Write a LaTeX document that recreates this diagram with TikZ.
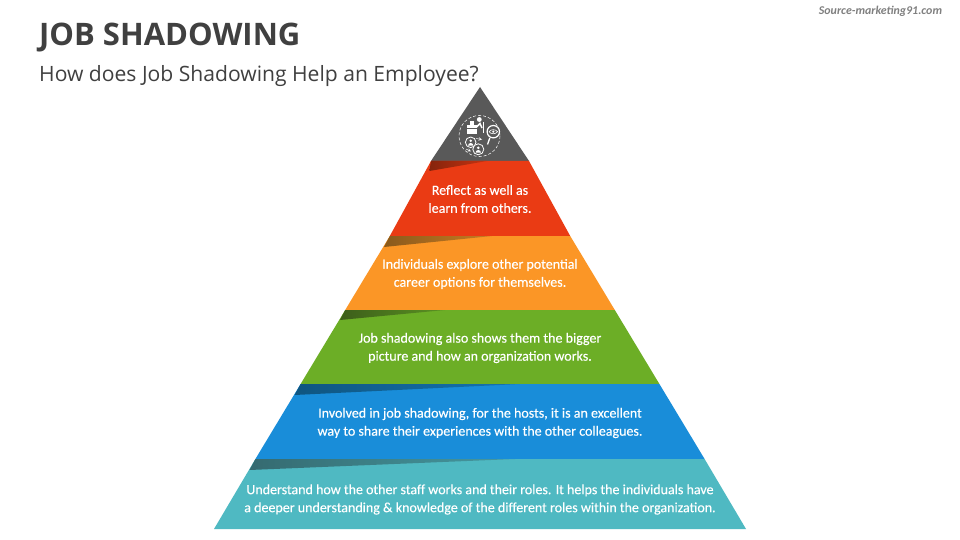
\documentclass[tikz,border=0pt]{standalone}
\usepackage{fontspec}
\setmainfont{Carlito}
\newfontfamily\headfont{Open Sans}
\newfontfamily\bandfont[FakeBold=0.25]{Carlito}
\begin{document}
\begin{tikzpicture}[x=1pt,y=-1pt,
  band/.style={text=white,align=center,font=\bandfont\fontsize{14}{18}\selectfont,inner sep=0pt},
  ic/.style={draw=white,line width=0.8pt,fill=topgrey},
  icw/.style={fill=white,draw=none}]
\definecolor{topgrey}{HTML}{595959}
\definecolor{redb}{HTML}{EA3B14}
\definecolor{orangeb}{HTML}{FB9626}
\definecolor{greenb}{HTML}{6CAE26}
\definecolor{blueb}{HTML}{198DD9}
\definecolor{tealb}{HTML}{4FB9C2}
\definecolor{redd}{HTML}{85240C}
\definecolor{oranged}{HTML}{8A5A1C}
\definecolor{greend}{HTML}{3C5E1A}
\definecolor{blued}{HTML}{0F5580}
\definecolor{teald}{HTML}{356A70}
\definecolor{headc}{HTML}{404040}
\useasboundingbox (0,0) rectangle (960,540);
\fill[white] (0,0) rectangle (960,540);
% pyramid bands
\fill[topgrey] (480,87) -- (529.0,161) -- (431.0,161) -- cycle;
\fill[redb] (431.0,161) -- (529.0,161) -- (570.2,236) -- (389.8,236) -- cycle;
\fill[orangeb] (389.8,236) -- (570.2,236) -- (614.8,310) -- (345.2,310) -- cycle;
\fill[greenb] (345.2,310) -- (614.8,310) -- (659.4,384) -- (300.6,384) -- cycle;
\fill[blueb] (300.6,384) -- (659.4,384) -- (704.6,459) -- (255.4,459) -- cycle;
\fill[tealb] (255.4,459) -- (704.6,459) -- (746,529) -- (214,529) -- cycle;
% wedge shadows
\begin{scope}
\clip (431.0,161) -- (487,161) -- (429.4,171) -- cycle;
\shade[left color=redd,right color=redd!35!redb] (429,160) rectangle (487,172);
\end{scope}
\begin{scope}
\clip (389.8,236) -- (492,236) -- (384,247) -- cycle;
\shade[left color=oranged,right color=oranged!45!orangeb] (384,235) rectangle (492,248);
\end{scope}
\begin{scope}
\clip (345.2,310) -- (445,310) -- (340,320) -- cycle;
\shade[left color=greend,right color=greend!35!greenb] (340,309) rectangle (445,321);
\end{scope}
\begin{scope}
\clip (300.6,384) -- (520,384) -- (294.6,395) -- cycle;
\shade[left color=blued,middle color=blued,right color=blued!45!blueb] (294,383) rectangle (520,396);
\end{scope}
\begin{scope}
\clip (255.4,459) -- (515,459) -- (249.5,470) -- cycle;
\shade[left color=teald,middle color=teald,right color=teald!40!tealb] (249,458) rectangle (515,471);
\end{scope}
% icon
\draw[white,line width=0.5pt,densely dashed] (479.5,136) circle (20.5);
\fill[icw] (466.7,125) rectangle (476.7,134);
\fill[icw] (469.5,121) rectangle (474,125);
\draw[topgrey,line width=0.5pt] (466.7,128.5) -- (476.7,128.5);
\fill[icw] (479.3,119.5) circle (2.4);
\draw[white,line width=1.5pt] (476.5,127) -- (480,123.5) -- (482,128);
\draw[white,line width=1.1pt] (483.5,122) -- (483.5,133);
\draw[white,line width=1.3pt] (489.8,138) -- (487.5,144.5);
\draw[white,line width=1.2pt,fill=topgrey] (493.3,131.7) circle (6.2);
\draw[white,line width=0.6pt] (489,131.7) .. controls (491,129) and (495.5,129) .. (497.6,131.7) .. controls (495.5,134.4) and (491,134.4) .. (489,131.7);
\fill[white] (493.3,131.7) circle (1.2);
\draw[ic] (470.7,142.3) circle (5.3);
\fill[icw] (470.7,140.8) circle (1.4);
\fill[icw] (468,145.7) arc[start angle=180,end angle=360,radius=2.7] -- cycle;
\draw[ic] (478.3,149.3) circle (5.5);
\fill[icw] (478.3,147.8) circle (1.4);
\fill[icw] (475.6,152.7) arc[start angle=180,end angle=360,radius=2.7] -- cycle;
\draw[white,line width=0.5pt,->,>=stealth] (476,138.5) -- (482,139.5);
\draw[white,line width=0.5pt,->,>=stealth] (466,149) -- (471,151.5);
% text
\node[anchor=base west,text=headc,font=\headfont\bfseries\fontsize{31}{31}\selectfont,inner sep=0pt] (title) at (39,46) {JOB SHADOWING};
\node[anchor=base west,text=headc,font=\headfont\fontsize{21.1}{21}\selectfont,inner sep=0pt] (subtitle) at (39,81.5) {How does Job Shadowing Help an Employee?};
\node[anchor=center,text=gray,font=\bfseries\itshape\fontsize{11.9}{11.9}\selectfont,inner sep=0pt] (source) at (880.5,11) {Source-marketing91.com};
\node[band] (t1) at (480,199) {Reflect as well as\\learn from others.};
\node[band] (t2) at (480,274) {Individuals explore other potential\\career options for themselves.};
\node[band] (t3) at (480,348) {Job shadowing also shows them the bigger\\picture and how an organization works.};
\node[band] (t4) at (480,423) {Involved in job shadowing, for the hosts, it is an excellent\\way to share their experiences with the other colleagues.};
\node[band] (t5) at (480,499.5) {Understand how the other staff works and their roles. It helps the individuals have\\a deeper understanding \& knowledge of the different roles within the organization.};
\end{tikzpicture}
\end{document}
